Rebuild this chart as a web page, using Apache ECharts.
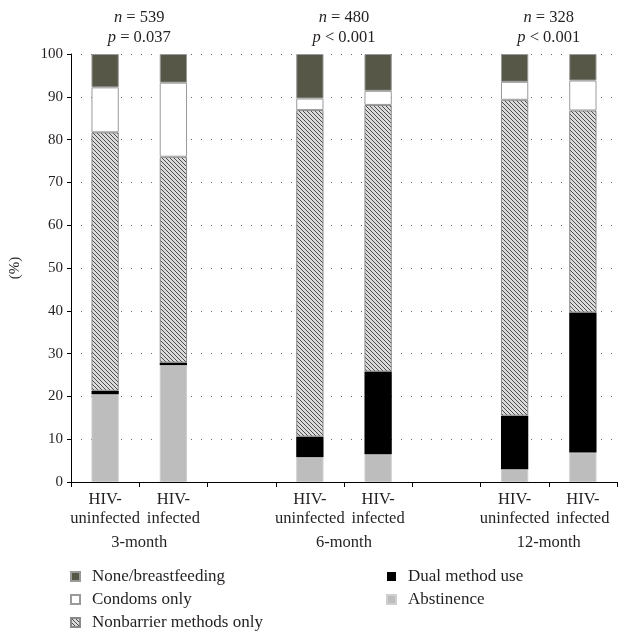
<!DOCTYPE html>
<html>
<head>
<meta charset="utf-8">
<script src="https://cdn.jsdelivr.net/npm/echarts@6/dist/echarts.min.js"></script>
<style>
  html, body { margin: 0; padding: 0; background: #fff; }
  #chart { width: 625px; height: 634px; }
</style>
</head>
<body>
<div id="chart"></div>
<script>
// slots on the x axis (empty slots separate the time points)
var categories = ['3m-U', '3m-I', 'gap1', '6m-U', '6m-I', 'gap2', '12m-U', '12m-I'];
var tickLabels = ['HIV-\nuninfected', 'HIV-\ninfected', '', 'HIV-\nuninfected', 'HIV-\ninfected', '', 'HIV-\nuninfected', 'HIV-\ninfected'];
var groupLabels = { 1: '3-month', 4: '6-month', 7: '12-month' };
var groupStats = {
  1: '{i|n} = 539\n{i|p} = 0.037',
  4: '{i|n} = 480\n{i|p} < 0.001',
  7: '{i|n} = 328\n{i|p} < 0.001'
};

// percentages, bottom to top of each bar
var abstinence = [20.5, 27.3, '-', 5.8, 6.5, '-', 3.0, 6.9];
var dualMethod = [0.8, 0.6, '-', 4.8, 19.3, '-', 12.5, 32.7];
var nonbarrier = [60.4, 48.1, '-', 76.3, 62.3, '-', 73.8, 47.2];
var condoms = [10.5, 17.3, '-', 2.7, 3.3, '-', 4.2, 7.0];
var noneBreast = [7.8, 6.7, '-', 10.4, 8.6, '-', 6.5, 6.2];

var font = '"Liberation Serif", "DejaVu Serif", serif';
var ink = '#231f20';
var fs = 16.5;

// hatch pattern for nonbarrier methods
var hatch = document.createElement('canvas');
hatch.width = 4;
hatch.height = 4;
var hctx = hatch.getContext('2d');
hctx.fillStyle = '#dcdcdc';
hctx.fillRect(0, 0, 4, 4);
hctx.fillStyle = '#4a4a4a';
for (var k = 0; k < 4; k++) {
  hctx.fillRect(k, k, 1, 1);
}

function barSeries(name, data, color, border) {
  return {
    name: name,
    type: 'bar',
    stack: 'total',
    barWidth: '40%',
    data: data,
    itemStyle: {
      color: color,
      borderColor: border,
      borderWidth: border ? 1 : 0
    }
  };
}

function legendBlock(names, left) {
  // narrow width so every item wraps onto its own row
  return {
    data: names,
    orient: 'horizontal',
    left: left,
    top: 568,
    width: 60,
    padding: 0,
    itemWidth: 9,
    itemHeight: 9,
    itemGap: 6,
    icon: 'rect',
    textStyle: { fontFamily: font, fontSize: 17, color: ink, padding: [0, 0, 0, 7] }
  };
}

var chart = echarts.init(document.getElementById('chart'));
chart.setOption({
  animation: false,
  textStyle: { fontFamily: font, color: ink },
  grid: { left: 70, right: 8, top: 54, bottom: 152 },
  legend: [
    legendBlock(['None/breastfeeding', 'Condoms only', 'Nonbarrier methods only'], 70),
    legendBlock(['Dual method use', 'Abstinence'], 386)
  ],
  xAxis: [{
    type: 'category',
    data: categories,
    axisLine: { lineStyle: { color: '#000', width: 1 } },
    axisTick: { show: true, length: 5, lineStyle: { color: '#000' } },
    axisLabel: {
      interval: 0,
      margin: 8,
      fontFamily: font,
      fontSize: fs,
      lineHeight: 19,
      color: ink,
      formatter: function (v, i) { return tickLabels[i]; }
    }
  }, {
    type: 'value',
    position: 'bottom',
    offset: 44,
    min: 0,
    max: 8,
    interval: 1,
    axisLine: { show: false },
    axisTick: { show: false },
    splitLine: { show: false },
    axisLabel: {
      margin: 8,
      fontFamily: font,
      fontSize: fs,
      color: ink,
      showMinLabel: true,
      showMaxLabel: true,
      formatter: function (v) { return groupLabels[v] || ''; }
    }
  }, {
    type: 'value',
    position: 'top',
    min: 0,
    max: 8,
    interval: 1,
    axisLine: { show: false },
    axisTick: { show: false },
    splitLine: { show: false },
    axisLabel: {
      margin: 6,
      fontFamily: font,
      fontSize: fs,
      lineHeight: 20,
      color: ink,
      formatter: function (v) { return groupStats[v] || ''; },
      rich: {
        i: { fontStyle: 'italic', fontFamily: font, fontSize: fs, color: ink }
      }
    }
  }],
  yAxis: {
    type: 'value',
    min: 0,
    max: 100,
    interval: 10,
    name: '(%)',
    nameLocation: 'middle',
    nameRotate: 90,
    nameGap: 48,
    nameTextStyle: { fontFamily: font, fontSize: 15, color: ink },
    axisLine: { show: true, lineStyle: { color: '#000', width: 1 } },
    axisTick: { show: true, length: 4, lineStyle: { color: '#000' } },
    axisLabel: { fontFamily: font, fontSize: 15, color: ink, margin: 8 },
    splitLine: {
      show: true,
      lineStyle: { color: '#666', type: [1, 9], width: 1 }
    }
  },
  series: [
    barSeries('Abstinence', abstinence, '#bdbdbd', '#cfcfcf'),
    barSeries('Dual method use', dualMethod, '#000000', null),
    barSeries('Nonbarrier methods only', nonbarrier, { image: hatch, repeat: 'repeat' }, '#8a8a8a'),
    barSeries('Condoms only', condoms, '#ffffff', '#9a9a9a'),
    barSeries('None/breastfeeding', noneBreast, '#575748', '#9a9a9a')
  ]
});
</script>
</body>
</html>
